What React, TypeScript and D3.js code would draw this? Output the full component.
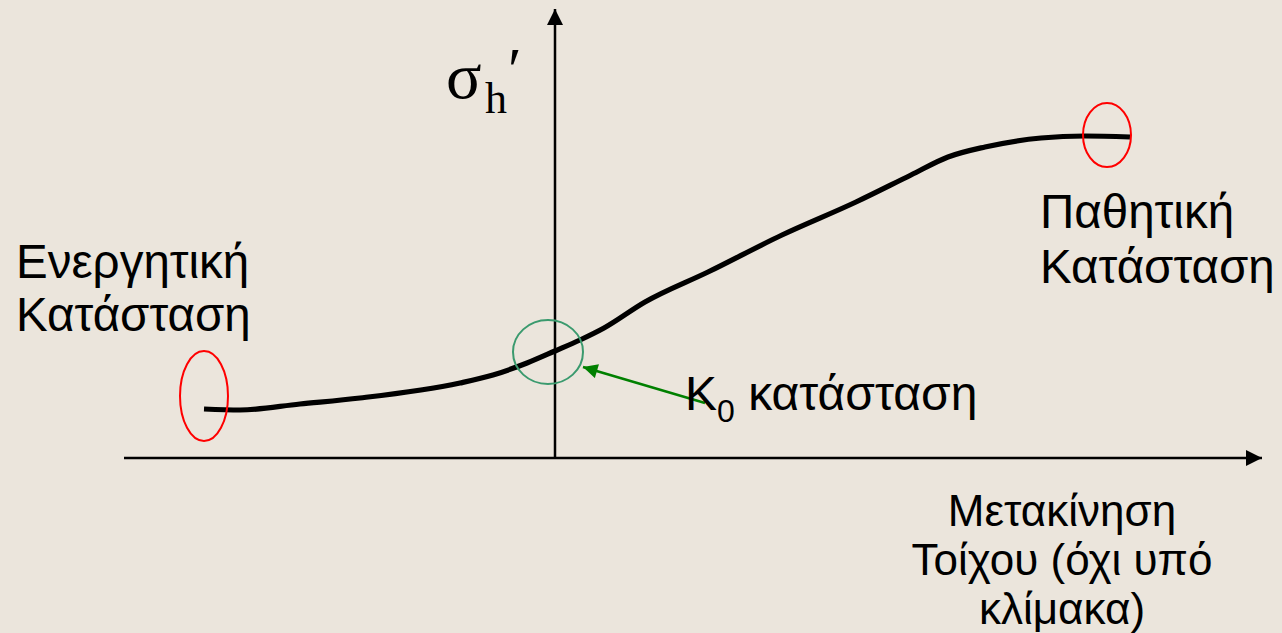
import React from "react";
import * as d3 from "d3";

// Wall displacement (arbitrary units, not to scale) vs horizontal effective stress
const displacement = [-3.51, -3.15, -2.55, -1.95, -0.95, -0.62, -0.28, 0, 0.25, 0.49, 0.9, 1.53, 2.27, 3.01, 3.56, 3.93, 4.3, 4.86, 5.3, 5.75];
const sigmaH = [0.49, 0.48, 0.54, 0.6, 0.75, 0.83, 0.95, 1.07, 1.18, 1.3, 1.56, 1.86, 2.23, 2.56, 2.83, 3.01, 3.11, 3.2, 3.22, 3.21];

const activeLabel = ["Ενεργητική", "Κατάσταση"];
const passiveLabel = ["Παθητική", "Κατάσταση"];
const xAxisLabel = ["Μετακίνηση", "Τοίχου (όχι υπό", "κλίμακα)"];
const k0Label = "κατάσταση";

const W = 1282;
const H = 633;
const BG = "#ebe5dc";
const SANS = "'Liberation Sans', Arial, sans-serif";
const SERIF = "'Liberation Serif', 'Times New Roman', serif";

export default function App() {
  const x = d3.scaleLinear().domain([-4.31, 7.07]).range([124, 1262]);
  const y = d3.scaleLinear().domain([0, 4.49]).range([458, 9]);
  const pts: [number, number][] = displacement.map((d, i) => [d, sigmaH[i]]);
  const line = d3
    .line<[number, number]>()
    .x((d) => x(d[0]))
    .y((d) => y(d[1]))
    .curve(d3.curveMonotoneX);

  const x0 = x(0);
  const y0 = y(0);
  const first = pts[0];
  const last = pts[pts.length - 1];
  const k0 = pts[displacement.indexOf(0)];

  return (
    <svg
      width={W}
      height={H}
      style={{ position: "absolute", left: 0, top: 0, display: "block" }}
    >
      <defs>
        <marker id="axArrow" viewBox="0 0 10 10" refX="10" refY="5" markerWidth="6.4" markerHeight="6.4" markerUnits="strokeWidth" orient="auto">
          <path d="M0,0 L10,5 L0,10 z" fill="#000" />
        </marker>
        <marker id="gArrow" viewBox="0 0 10 10" refX="10" refY="5" markerWidth="6.4" markerHeight="5.8" markerUnits="strokeWidth" orient="auto">
          <path d="M0,0 L10,5 L0,10 z" fill="#008000" />
        </marker>
      </defs>
      <rect x={0} y={0} width={W} height={H} fill={BG} />

      {/* axes */}
      <line x1={x.range()[0]} y1={y0} x2={x.range()[1]} y2={y0} stroke="#000" strokeWidth={2.5} markerEnd="url(#axArrow)" />
      <line x1={x0} y1={y0} x2={x0} y2={y.range()[1]} stroke="#000" strokeWidth={2.5} markerEnd="url(#axArrow)" />

      {/* curve */}
      <path d={line(pts) || ""} fill="none" stroke="#000" strokeWidth={5.2} strokeLinecap="butt" />

      {/* highlight ellipses */}
      <ellipse cx={x(first[0])} cy={y(first[1]) - 13} rx={24} ry={45} fill="none" stroke="#ff0000" strokeWidth={2} />
      <ellipse cx={x(last[0]) - 23} cy={y(last[1]) - 2} rx={24} ry={32} fill="none" stroke="#ff0000" strokeWidth={2} />
      <ellipse cx={x(k0[0]) - 7} cy={y(k0[1]) + 1} rx={35} ry={32} fill="none" stroke="#3a9a6e" strokeWidth={2} />

      {/* K0 arrow */}
      <line x1={705} y1={403} x2={x(k0[0]) + 28} y2={y(k0[1]) + 16} stroke="#008000" strokeWidth={2.5} markerEnd="url(#gArrow)" />

      {/* y-axis label */}
      <text x={446} y={98} fontFamily={SERIF} fontSize={66} fill="#000">σ</text>
      <text x={485} y={113} fontFamily={SERIF} fontSize={44} fill="#000">h</text>
      <text x={508} y={90} fontFamily={SERIF} fontSize={62} fill="#000">′</text>

      {/* state labels */}
      {activeLabel.map((t, i) => (
        <text key={"a" + i} x={16} y={278 + i * 53} fontFamily={SANS} fontSize={47.5} fill="#000">{t}</text>
      ))}
      {passiveLabel.map((t, i) => (
        <text key={"p" + i} x={1040} y={228 + i * 55} fontFamily={SANS} fontSize={47.5} fill="#000">{t}</text>
      ))}
      {xAxisLabel.map((t, i) => (
        <text key={"x" + i} x={1062} y={526 + i * 49} textAnchor="middle" fontFamily={SANS} fontSize={44} fill="#000">{t}</text>
      ))}
      <text x={685} y={410} fontFamily={SANS} fontSize={48} fill="#000">
        K<tspan fontSize={32} dy={12}>0</tspan>
        <tspan dy={-12}> {k0Label}</tspan>
      </text>
    </svg>
  );
}
